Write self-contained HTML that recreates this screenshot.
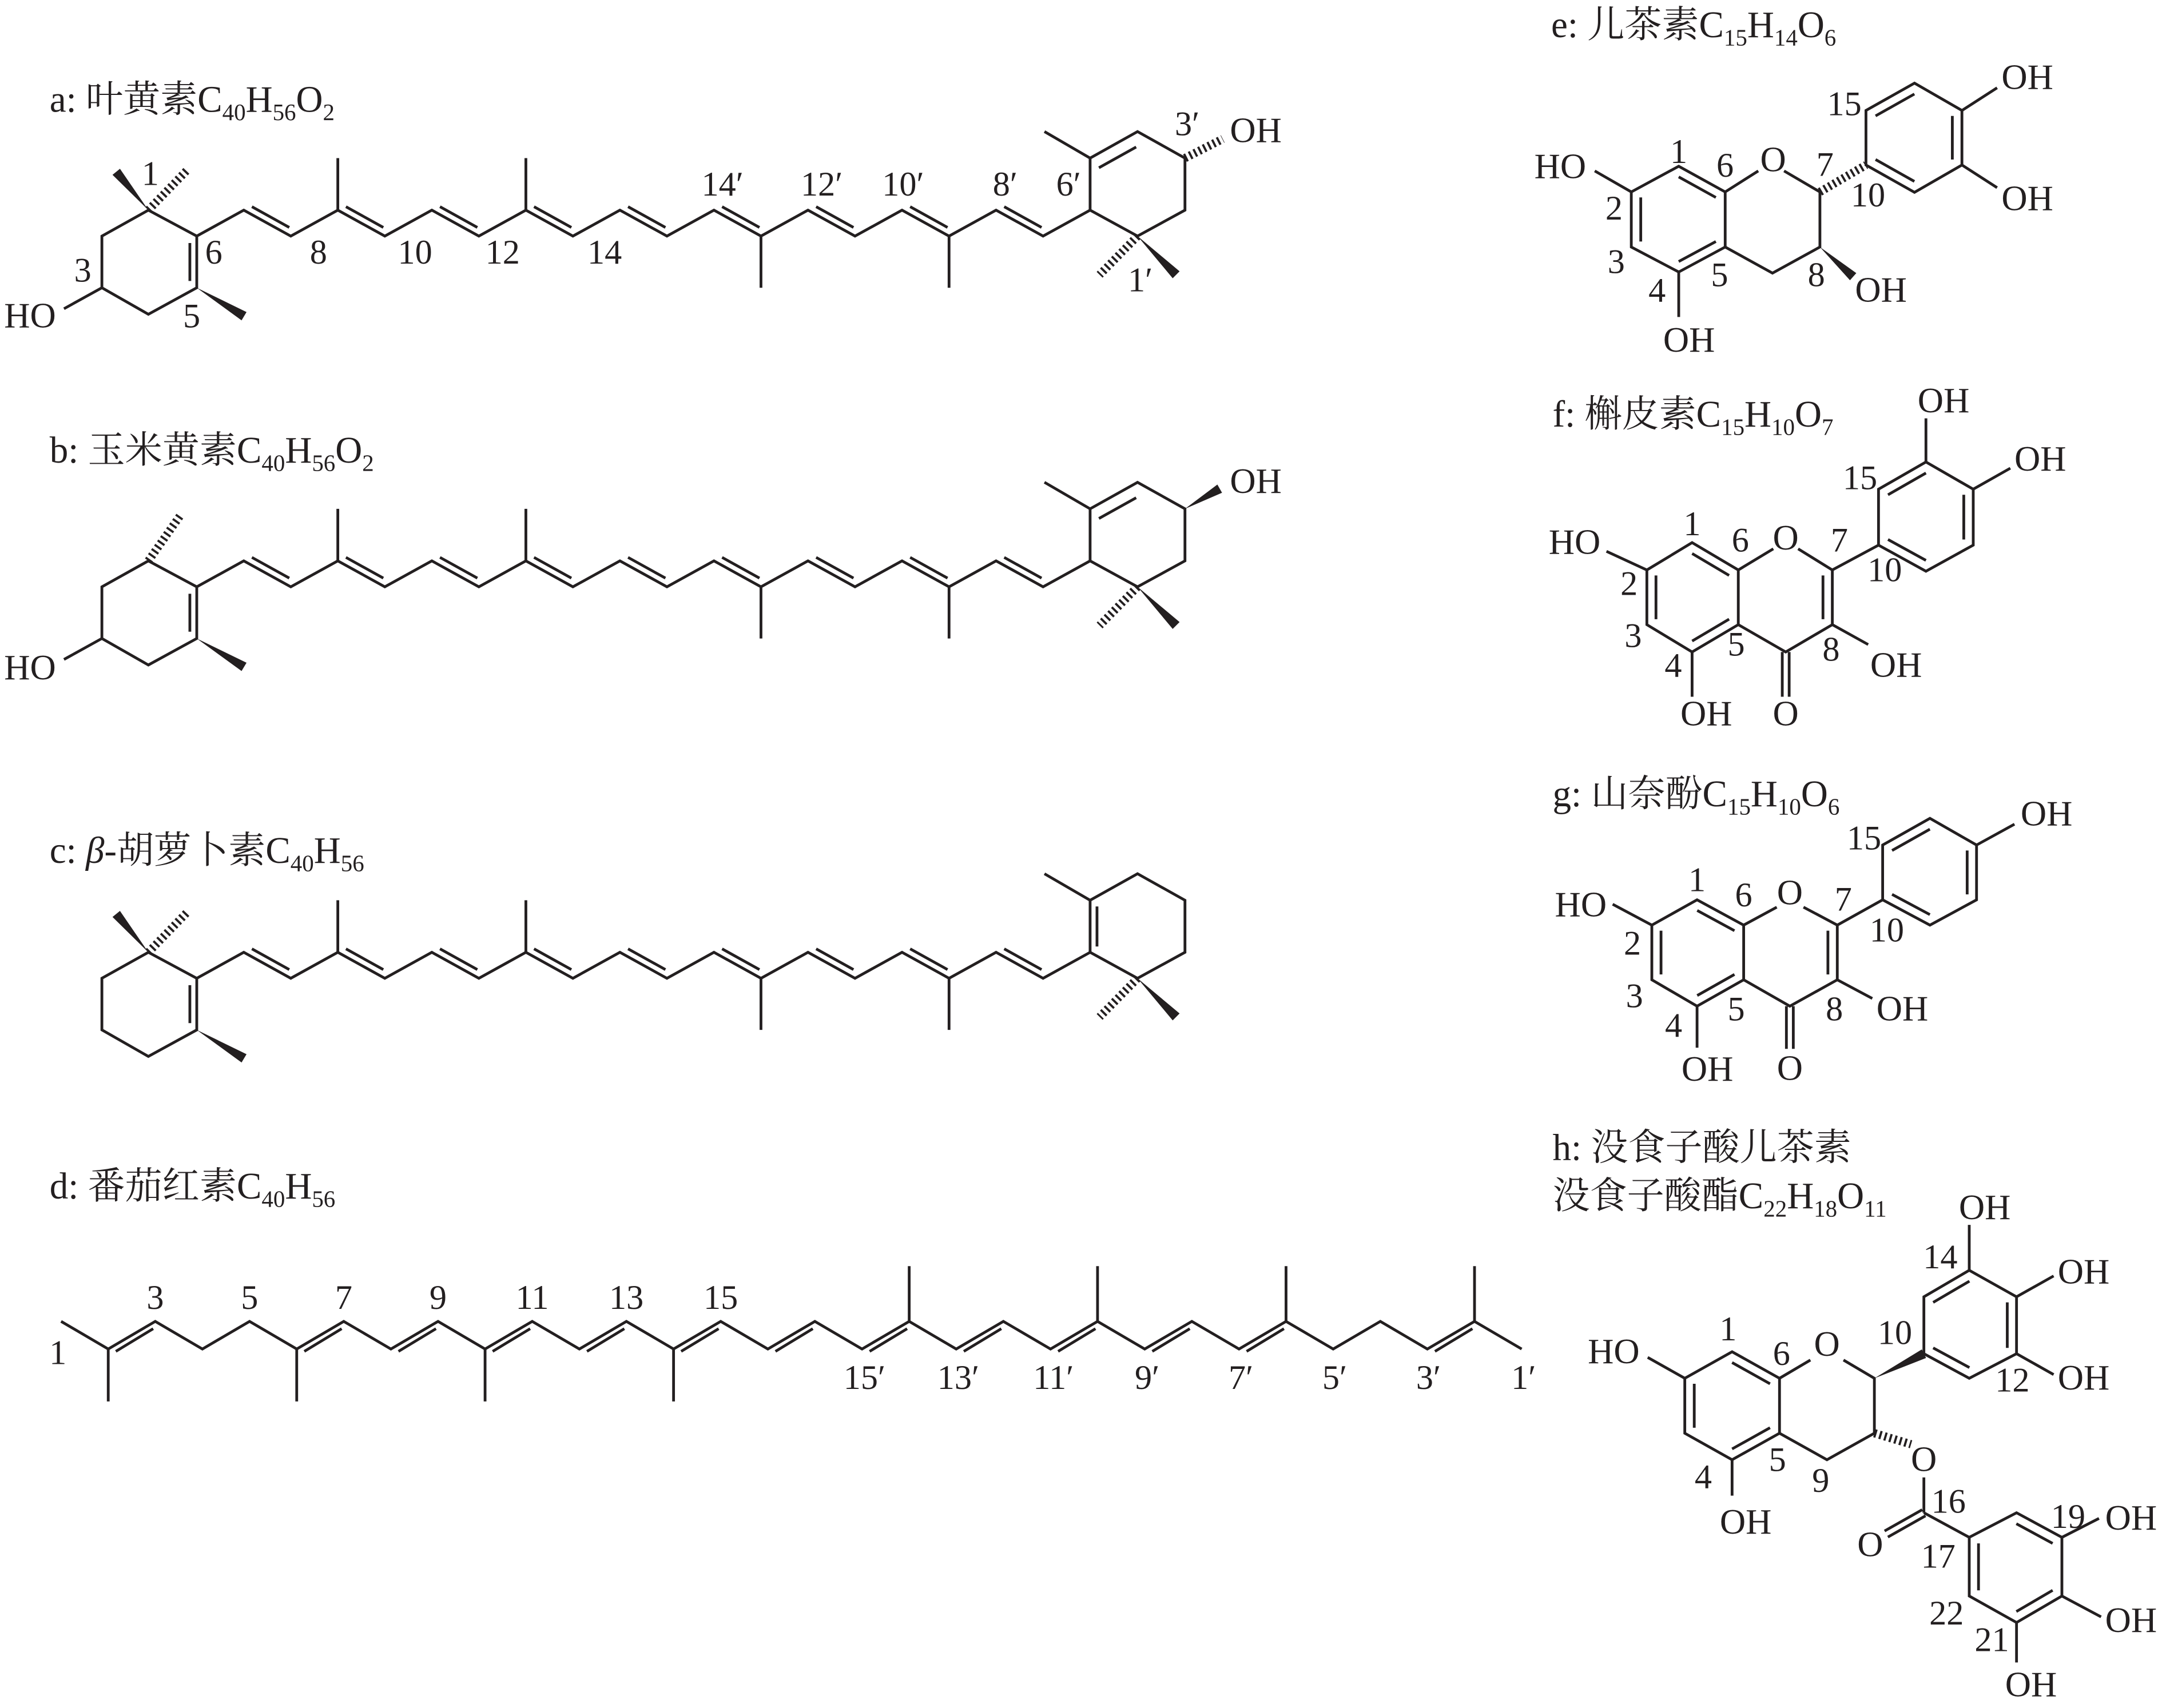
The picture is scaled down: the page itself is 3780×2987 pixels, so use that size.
<!DOCTYPE html>
<html><head><meta charset="utf-8"><style>
html,body{margin:0;padding:0;background:#fff;}
svg{display:block;}
text{font-family:"Liberation Serif","Noto Serif CJK SC","Noto Sans CJK SC",serif;fill:#231f20;}
.t{font-size:27px;}
.l{font-size:25px;text-anchor:middle;}
.at{font-size:26px;}
.m{text-anchor:middle;}
</style></head><body>
<svg width="3780" height="2987" viewBox="0 0 1568 1237" preserveAspectRatio="none" xmlns="http://www.w3.org/2000/svg">
<defs>
<g id="ch" stroke="#231f20" stroke-width="2" fill="none">
<polyline points="142.7,171 176.8,152.2 210.9,171 245,152.2 279.1,171 313.2,152.2 347.3,171 381.4,152.2 415.5,171 449.6,152.2 483.7,171 517.8,152.2 551.9,171 586,152.2 620.1,171 654.2,152.2 688.3,171 722.4,152.2 756.5,171 790.6,152.2"/>
<path d="M245,152.2V114.5M381.4,152.2V114.5M551.9,171V208.4M688.3,171V208.4"/>
<path d="M182.7,149.7L209.8,164.7M250.9,149.7L278,164.7M319.1,149.7L346.2,164.7M387.3,149.7L414.4,164.7M455.5,149.7L482.6,164.7M523.7,149.7L550.8,164.7M591.9,149.7L619,164.7M660.1,149.7L687.2,164.7M728.3,149.7L755.4,164.7"/>
<polyline points="142.7,171 107.6,152.2 73.9,171 73.9,208.4 107.6,227.6 142.7,208.4 142.7,171"/>
<path d="M137.7,176V203.5"/>
<polygon points="142.7,208.4 175.2,232 178.8,226" fill="#231f20" stroke="none"/>
<polyline points="790.6,152.2 790.6,114.5 825,95.3 859.4,114.5 859.4,152.2 825,171 790.6,152.2"/>
<path d="M790.6,114.5L757.5,95.3"/>
<polygon points="825,171 850.5,201.5 855.5,196.5" fill="#231f20" stroke="none"/>
<path d="M825,171L797.5,199" stroke-width="6" stroke-dasharray="1.6 2.2"/>
</g>
</defs>

<!-- a -->
<text class="t" x="36" y="81">a: 叶黄素C<tspan font-size="17" dy="6">40</tspan><tspan dy="-6">H</tspan><tspan font-size="17" dy="6">56</tspan><tspan dy="-6">O</tspan><tspan font-size="17" dy="6">2</tspan></text>
<use href="#ch"/>
<g stroke="#231f20" stroke-width="2" fill="none">
<polygon points="107.6,152.2 87,122.2 81.6,126.6" fill="#231f20" stroke="none"/>
<path d="M107.6,152.2L135.8,123.1" stroke-width="6" stroke-dasharray="1.6 2.2"/>
<path d="M73.9,208.4L46.4,223.6"/>
<path d="M859.4,114.5L886.8,100.6" stroke-width="6" stroke-dasharray="1.6 2.2"/>
<path d="M797,121.5L824,106.5"/>
</g>
<text class="at" x="3" y="237">HO</text>
<text class="at" x="892" y="103">OH</text>
<text class="l" x="109" y="134">1</text>
<text class="l" x="60" y="204">3</text>
<text class="l" x="139" y="237">5</text>
<text class="l" x="155" y="191">6</text>
<text class="l" x="231" y="191">8</text>
<text class="l" x="301" y="191">10</text>
<text class="l" x="364.5" y="191">12</text>
<text class="l" x="438.5" y="191">14</text>
<text class="l" x="524" y="141.6">14′</text>
<text class="l" x="596" y="141.6">12′</text>
<text class="l" x="655" y="141.6">10′</text>
<text class="l" x="729" y="141.6">8′</text>
<text class="l" x="775" y="141.6">6′</text>
<text class="l" x="861" y="98">3′</text>
<text class="l" x="827" y="211">1′</text>

<!-- b -->
<text class="t" x="36" y="335">b: 玉米黄素C<tspan font-size="17" dy="6">40</tspan><tspan dy="-6">H</tspan><tspan font-size="17" dy="6">56</tspan><tspan dy="-6">O</tspan><tspan font-size="17" dy="6">2</tspan></text>
<g transform="translate(0,254)">
<use href="#ch"/>
<g stroke="#231f20" stroke-width="2" fill="none">
<path d="M107.6,152.2L131,119" stroke-width="6" stroke-dasharray="1.6 2.2"/>
<path d="M73.9,208.4L46.4,223.6"/>
<polygon points="859.4,114.5 886.3,102.9 882.9,96.9" fill="#231f20" stroke="none"/>
<path d="M797,121.5L824,106.5"/>
</g>
<text class="at" x="3" y="238">HO</text>
<text class="at" x="892" y="103">OH</text>
</g>

<!-- c -->
<text class="t" x="36" y="625">c: <tspan font-style="italic">β</tspan>-胡萝卜素C<tspan font-size="17" dy="6">40</tspan><tspan dy="-6">H</tspan><tspan font-size="17" dy="6">56</tspan></text>
<g transform="translate(0,537.5)">
<use href="#ch"/>
<g stroke="#231f20" stroke-width="2" fill="none">
<polygon points="107.6,152.2 87,122.2 81.6,126.6" fill="#231f20" stroke="none"/>
<path d="M107.6,152.2L135.8,123.1" stroke-width="6" stroke-dasharray="1.6 2.2"/>
<path d="M795.6,119V148"/>
</g>
</g>

<!-- d -->
<text class="t" x="36" y="868">d: 番茄红素C<tspan font-size="17" dy="6">40</tspan><tspan dy="-6">H</tspan><tspan font-size="17" dy="6">56</tspan></text>
<g stroke="#231f20" stroke-width="2" fill="none">
<polyline points="44.3,957 78.5,977 112.6,957 146.8,977 181,957 215.2,977 249.3,957 283.5,977 317.7,957 351.8,977 386,957 420.2,977 454.3,957 488.5,977 522.7,957 556.9,977 591,957 625.2,977 659.4,957 693.5,977 727.7,957 761.9,977 796,957 830.2,977 864.4,957 898.6,977 932.7,957 966.9,977 1001.1,957 1035.2,977 1069.4,957 1103.6,977"/>
<path d="M78.5,977V1015M215.2,977V1015M351.8,977V1015M488.5,977V1015M659.4,957V917M796,957V917M932.7,957V917M1069.4,957V917"/>
<path d="M84,978.7L111.1,962.3M220.7,978.7L247.8,962.3M289,978.7L316.2,962.3M357.3,978.7L384.5,962.3M425.7,978.7L452.8,962.3M494,978.7L521.2,962.3M562.4,978.7L589.5,962.3M630.7,978.7L657.9,962.3M699,978.7L726.2,962.3M767.4,978.7L794.5,962.3M835.7,978.7L862.9,962.3M904.1,978.7L931.2,962.3M1040.7,978.7L1067.9,962.3"/>
</g>
<text class="l" x="42" y="988">1</text>
<text class="l" x="112.6" y="948">3</text>
<text class="l" x="181" y="948">5</text>
<text class="l" x="249.3" y="948">7</text>
<text class="l" x="317.7" y="948">9</text>
<text class="l" x="386" y="948">11</text>
<text class="l" x="454.3" y="948">13</text>
<text class="l" x="522.7" y="948">15</text>
<text class="l" x="627" y="1006">15′</text>
<text class="l" x="695" y="1006">13′</text>
<text class="l" x="764" y="1006">11′</text>
<text class="l" x="832" y="1006">9′</text>
<text class="l" x="900" y="1006">7′</text>
<text class="l" x="968" y="1006">5′</text>
<text class="l" x="1036" y="1006">3′</text>
<text class="l" x="1105" y="1006">1′</text>

<!-- e -->
<text class="t" x="1125" y="27">e: 儿茶素C<tspan font-size="17" dy="6">15</tspan><tspan dy="-6">H</tspan><tspan font-size="17" dy="6">14</tspan><tspan dy="-6">O</tspan><tspan font-size="17" dy="6">6</tspan></text>
<g stroke="#231f20" stroke-width="2" fill="none">
<polygon points="1217.5,120.4 1251.2,139 1251.2,178.9 1217.5,197 1183.1,178.9 1183.1,139"/>
<g transform="translate(1217.4,159) scale(0.8) translate(-1217.4,-159)" stroke-width="2.5">
<path d="M1217.5,120.4L1251.2,139M1183.1,139V178.9M1217.5,197L1251.2,178.9"/>
</g>
<path d="M1251.2,139L1275.2,123.8M1293.9,123.8L1319.9,139V178.9L1285.5,197.8L1251.2,178.9"/>
<path d="M1183.1,139L1156.6,123.8M1217.5,197V229.6"/>
<polygon points="1319.9,178.9 1341.7,203 1346.3,197.8" fill="#231f20" stroke="none"/>
<path d="M1319.9,139L1353.3,119.5" stroke-width="6" stroke-dasharray="1.6 2.2"/>
<polygon points="1353.3,119.5 1353.3,80 1388.5,60.2 1422.9,80 1422.9,119.5 1388.5,139.3"/>
<g transform="translate(1388.1,99.7) scale(0.8) translate(-1388.1,-99.7)" stroke-width="2.5">
<path d="M1353.3,80L1388.5,60.2M1422.9,80V119.5M1353.3,119.5L1388.5,139.3"/>
</g>
<path d="M1422.9,80L1448.4,63.6M1422.9,119.5L1448.4,135.9"/>
</g>
<text class="at m" x="1286" y="124">O</text>
<text class="at" x="1112.8" y="129">HO</text>
<text class="at m" x="1225" y="254.6">OH</text>
<text class="at" x="1345.4" y="218.4">OH</text>
<text class="at" x="1451.6" y="64.5">OH</text>
<text class="at" x="1451.6" y="152.2">OH</text>
<text class="l" x="1217.5" y="118">1</text>
<text class="l" x="1251.1" y="128">6</text>
<text class="l" x="1323.6" y="127.3">7</text>
<text class="l" x="1170.6" y="159">2</text>
<text class="l" x="1172.2" y="197.8">3</text>
<text class="l" x="1201.8" y="218.4">4</text>
<text class="l" x="1247.1" y="207.3">5</text>
<text class="l" x="1317.3" y="207.3">8</text>
<text class="l" x="1354.8" y="149.6">10</text>
<text class="l" x="1337.6" y="83.4">15</text>

<!-- f -->
<text class="t" x="1126" y="309">f: 槲皮素C<tspan font-size="17" dy="6">15</tspan><tspan dy="-6">H</tspan><tspan font-size="17" dy="6">10</tspan><tspan dy="-6">O</tspan><tspan font-size="17" dy="6">7</tspan></text>
<g stroke="#231f20" stroke-width="2" fill="none">
<polygon points="1227.2,393 1260.7,412.8 1260.7,452.4 1227.2,472.2 1194.4,452.4 1194.4,412.8"/>
<g transform="translate(1227.4,432.6) scale(0.8) translate(-1227.4,-432.6)" stroke-width="2.5">
<path d="M1227.2,393L1260.7,412.8M1194.4,412.8V452.4M1227.2,472.2L1260.7,452.4"/>
</g>
<path d="M1260.7,412.8L1286.1,397.5M1304.1,397.5L1328.9,412.8V452.4L1295.1,472.2L1260.7,452.4"/>
<g transform="translate(1295,432.6) scale(0.8) translate(-1295,-432.6)" stroke-width="2.5"><path d="M1328.9,412.8V452.4"/></g>
<path d="M1292.6,472.2V504.6M1297.6,472.2V504.6"/>
<path d="M1194.4,412.8L1165.1,399.3M1227.2,472.2V504.6M1328.9,452.4L1354.9,466.8M1328.9,412.8L1362.4,394.8"/>
<polygon points="1362.4,394.8 1362.4,354.3 1396.8,334.6 1431.1,354.3 1431.1,394.8 1396.8,413.7"/>
<g transform="translate(1396.8,374.5) scale(0.8) translate(-1396.8,-374.5)" stroke-width="2.5">
<path d="M1362.4,354.3L1396.8,334.6M1431.1,354.3V394.8M1362.4,394.8L1396.8,413.7"/>
</g>
<path d="M1396.8,334.6V303M1431.1,354.3L1458,339.1"/>
</g>
<text class="at m" x="1295.1" y="398">O</text>
<text class="at m" x="1295.1" y="525.3">O</text>
<text class="at" x="1123.2" y="401">HO</text>
<text class="at m" x="1237.5" y="525.3">OH</text>
<text class="at" x="1356.4" y="490.2">OH</text>
<text class="at" x="1390.8" y="298.6">OH</text>
<text class="at" x="1461" y="340.9">OH</text>
<text class="l" x="1227.2" y="387.6">1</text>
<text class="l" x="1262.2" y="399.4">6</text>
<text class="l" x="1334" y="399.4">7</text>
<text class="l" x="1181.5" y="430.8">2</text>
<text class="l" x="1184.5" y="468.6">3</text>
<text class="l" x="1213.5" y="490.2">4</text>
<text class="l" x="1259.2" y="474.9">5</text>
<text class="l" x="1328" y="478.5">8</text>
<text class="l" x="1366.9" y="421">10</text>
<text class="l" x="1349" y="354.3">15</text>

<!-- g -->
<text class="t" x="1126" y="584">g: 山奈酚C<tspan font-size="17" dy="6">15</tspan><tspan dy="-6">H</tspan><tspan font-size="17" dy="6">10</tspan><tspan dy="-6">O</tspan><tspan font-size="17" dy="6">6</tspan></text>
<g stroke="#231f20" stroke-width="2" fill="none">
<polygon points="1230.8,651.7 1264.6,670 1264.6,709.6 1230.8,728.7 1198,709.6 1198,670"/>
<g transform="translate(1231.3,690.2) scale(0.8) translate(-1231.3,-690.2)" stroke-width="2.5">
<path d="M1230.8,651.7L1264.6,670M1198,670V709.6M1230.8,728.7L1264.6,709.6"/>
</g>
<path d="M1264.6,670L1288.6,657M1308,657L1332.5,670V709.6L1298.1,728.7L1264.6,709.6"/>
<g transform="translate(1298.5,690.2) scale(0.8) translate(-1298.5,-690.2)" stroke-width="2.5"><path d="M1332.5,670V709.6"/></g>
<path d="M1295.6,728.7V759.6M1300.6,728.7V759.6"/>
<path d="M1198,670L1169.6,654.9M1230.8,728.7V758.8M1332.5,709.6L1357.9,723.1M1332.5,670L1365.4,651.7"/>
<polygon points="1365.4,651.7 1365.4,612 1399.7,592.7 1433.5,612 1433.5,651.7 1399.7,670"/>
<g transform="translate(1399.5,631.9) scale(0.8) translate(-1399.5,-631.9)" stroke-width="2.5">
<path d="M1365.4,612L1399.7,592.7M1433.5,612V651.7M1365.4,651.7L1399.7,670"/>
</g>
<path d="M1433.5,612L1461,596.9"/>
</g>
<text class="at m" x="1298.1" y="655">O</text>
<text class="at m" x="1298.1" y="782">O</text>
<text class="at" x="1127.7" y="663.6">HO</text>
<text class="at m" x="1238.3" y="782.6">OH</text>
<text class="at" x="1360.9" y="739">OH</text>
<text class="at" x="1465.5" y="597.7">OH</text>
<text class="l" x="1230.8" y="645.4">1</text>
<text class="l" x="1264.6" y="656.5">6</text>
<text class="l" x="1336.9" y="659.6">7</text>
<text class="l" x="1183.9" y="691.4">2</text>
<text class="l" x="1185.4" y="729.5">3</text>
<text class="l" x="1213.8" y="750.9">4</text>
<text class="l" x="1259.2" y="739">5</text>
<text class="l" x="1330.4" y="739">8</text>
<text class="l" x="1368.4" y="681.9">10</text>
<text class="l" x="1351.9" y="615.2">15</text>

<!-- h -->
<text class="t" x="1126" y="840">h: 没食子酸儿茶素</text>
<text class="t" x="1126" y="875">没食子酸酯C<tspan font-size="17" dy="6">22</tspan><tspan dy="-6">H</tspan><tspan font-size="17" dy="6">18</tspan><tspan dy="-6">O</tspan><tspan font-size="17" dy="6">11</tspan></text>
<g stroke="#231f20" stroke-width="2" fill="none">
<polygon points="1256.2,979 1290.6,998.2 1290.6,1038 1256.2,1057.2 1221.9,1038 1221.9,998.2"/>
<g transform="translate(1256.2,1018.1) scale(0.8) translate(-1256.2,-1018.1)" stroke-width="2.5">
<path d="M1256.2,979L1290.6,998.2M1221.9,998.2V1038M1256.2,1057.2L1290.6,1038"/>
</g>
<path d="M1290.6,998.2L1313,985M1337,985L1359.4,998.2V1038L1325,1057.2L1290.6,1038"/>
<path d="M1221.9,998.2L1195,983.1M1256.2,1057.2V1083.2"/>
<polygon points="1359.4,998.2 1396.9,983.5 1393.8,977.3" fill="#231f20" stroke="none"/>
<polygon points="1395.3,980.4 1395.3,939.2 1428.2,920 1462.5,939.2 1462.5,980.4 1428.2,998.2"/>
<g transform="translate(1428.9,959.4) scale(0.8) translate(-1428.9,-959.4)" stroke-width="2.5">
<path d="M1395.3,939.2L1428.2,920M1462.5,939.2V980.4M1395.3,980.4L1428.2,998.2"/>
</g>
<path d="M1428.2,920V887.1M1462.5,939.2L1489.4,924.1M1462.5,980.4L1489.4,995.5"/>
<path d="M1359.4,1038L1386,1046" stroke-width="6" stroke-dasharray="1.6 2.2"/>
<path d="M1395.3,1070V1095.6M1394.1,1093.4L1366.8,1108.8M1396.5,1097.8L1369.2,1113.2M1395.3,1095.6L1428.2,1113.4"/>
<polygon points="1428.2,1113.4 1462.5,1095.6 1495.4,1113.4 1495.4,1155.9 1462.5,1175.1 1428.2,1155.9"/>
<g transform="translate(1461.8,1135.3) scale(0.8) translate(-1461.8,-1135.3)" stroke-width="2.5">
<path d="M1428.2,1113.4V1155.9M1462.5,1095.6L1495.4,1113.4M1495.4,1155.9L1462.5,1175.1"/>
</g>
<path d="M1495.4,1113.4L1522.3,1099.7M1495.4,1155.9L1523.8,1171M1462.5,1175.1V1204"/>
</g>
<text class="at m" x="1325" y="982">O</text>
<text class="at m" x="1395.3" y="1065.4">O</text>
<text class="at m" x="1356.4" y="1127">O</text>
<text class="at" x="1151.6" y="987.2">HO</text>
<text class="at" x="1247.3" y="1110.7">OH</text>
<text class="at" x="1420.7" y="883">OH</text>
<text class="at" x="1492.4" y="929.6">OH</text>
<text class="at" x="1492.4" y="1006.4">OH</text>
<text class="at" x="1526.8" y="1107.9">OH</text>
<text class="at" x="1526.8" y="1182">OH</text>
<text class="at m" x="1473" y="1228.6">OH</text>
<text class="l" x="1253.3" y="970.8">1</text>
<text class="l" x="1292.1" y="988.6">6</text>
<text class="l" x="1407.2" y="918.6">14</text>
<text class="l" x="1374.3" y="973.5">10</text>
<text class="l" x="1459.5" y="1007.8">12</text>
<text class="l" x="1289.1" y="1065.4">5</text>
<text class="l" x="1320.5" y="1080.5">9</text>
<text class="l" x="1235.3" y="1077.8">4</text>
<text class="l" x="1413.2" y="1095.6">16</text>
<text class="l" x="1405.7" y="1135.4">17</text>
<text class="l" x="1499.9" y="1106.6">19</text>
<text class="l" x="1411.7" y="1176.5">22</text>
<text class="l" x="1444.6" y="1195.7">21</text>
</svg>
</body></html>
